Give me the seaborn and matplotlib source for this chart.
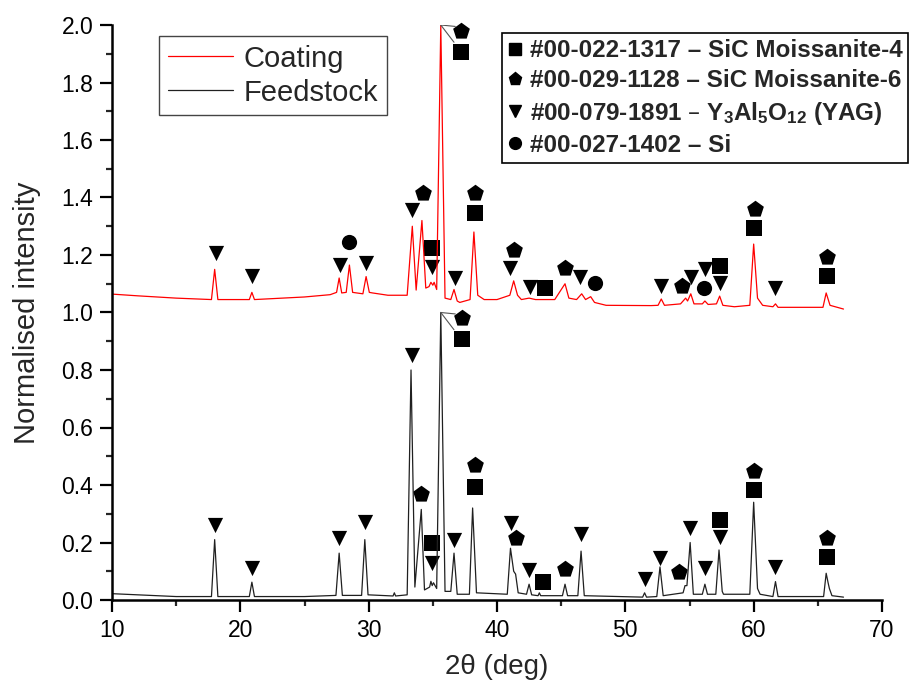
import numpy as np
import pandas as pd
import matplotlib
matplotlib.use("Agg")
import matplotlib.pyplot as plt
from matplotlib.lines import Line2D
from matplotlib.ticker import MultipleLocator
import seaborn as sns

# ---- traced pattern vertices (2theta, normalised intensity) ----
feed_tt = [10.0, 12.0, 15.0, 17.75, 18.0, 18.25, 20.7, 20.9, 21.1, 25.0,
           27.45, 27.7, 27.95, 29.45, 29.7, 29.95, 31.9, 32.0, 32.1, 33.0,
           33.3, 33.6, 34.1, 34.35, 34.75, 34.85, 34.95, 35.05, 35.3, 35.62,
           35.95, 36.4, 36.65, 36.9, 37.85, 38.1, 38.4, 40.8, 41.05, 41.3,
           41.45, 41.65, 42.3, 42.5, 42.7, 43.2, 43.3, 43.4, 45.1, 45.3,
           45.5, 46.3, 46.55, 46.8, 51.35, 51.5, 51.65, 52.45, 52.7, 52.95,
           54.5, 54.65, 54.8, 55.05, 55.3, 56.0, 56.2, 56.4, 57.05, 57.3,
           57.55, 57.65, 59.7, 60.0, 60.3, 60.5, 61.5, 61.7, 61.9, 65.45,
           65.65, 65.8, 65.9, 66.1, 67.0]
feed_int = [0.022, 0.018, 0.012, 0.012, 0.21, 0.012, 0.012, 0.062, 0.012, 0.012,
            0.016, 0.163, 0.016, 0.016, 0.21, 0.018, 0.014, 0.025, 0.014, 0.018,
            0.80, 0.045, 0.315, 0.035, 0.045, 0.065, 0.05, 0.06, 0.04, 1.0,
            0.03, 0.03, 0.163, 0.02, 0.02, 0.32, 0.025, 0.02, 0.18, 0.10,
            0.09, 0.025, 0.02, 0.055, 0.018, 0.015, 0.025, 0.015, 0.015, 0.055,
            0.015, 0.015, 0.17, 0.015, 0.01, 0.025, 0.01, 0.012, 0.115, 0.015,
            0.025, 0.05, 0.05, 0.20, 0.02, 0.02, 0.055, 0.02, 0.02, 0.174,
            0.03, 0.02, 0.02, 0.34, 0.04, 0.02, 0.012, 0.064, 0.012, 0.012,
            0.093, 0.06, 0.04, 0.015, 0.01]

coat_tt = [10.0, 12.0, 15.0, 17.75, 18.0, 18.25, 20.7, 20.9, 21.1, 25.0,
           27.0, 27.5, 27.7, 27.9, 28.25, 28.5, 28.75, 29.55, 29.8, 30.05,
           30.3, 31.5, 33.0, 33.4, 33.7, 34.15, 34.45, 34.7, 34.85, 35.0,
           35.1, 35.3, 35.62, 35.95, 36.4, 36.65, 36.9, 37.1, 37.9, 38.2,
           38.5, 39.0, 40.0, 41.0, 41.3, 41.6, 41.9, 42.5, 43.0, 43.5,
           44.5, 45.3, 45.6, 46.2, 46.6, 46.9, 47.3, 47.6, 48.5, 52.0,
           52.55, 52.8, 53.05, 54.3, 54.7, 54.85, 55.1, 55.35, 56.0, 56.2,
           56.45, 57.1, 57.35, 57.6, 58.5, 59.7, 60.0, 60.3, 60.7, 61.5,
           61.7, 61.9, 65.4, 65.65, 65.95, 67.0]
coat_int = [1.064, 1.058, 1.05, 1.045, 1.15, 1.045, 1.045, 1.07, 1.045, 1.054,
            1.062, 1.07, 1.12, 1.068, 1.07, 1.165, 1.07, 1.065, 1.125, 1.07,
            1.068, 1.06, 1.06, 1.30, 1.078, 1.32, 1.085, 1.09, 1.105, 1.095,
            1.105, 1.08, 2.0, 1.05, 1.045, 1.08, 1.04, 1.035, 1.045, 1.28,
            1.06, 1.045, 1.045, 1.06, 1.11, 1.06, 1.045, 1.05, 1.045, 1.045,
            1.045, 1.10, 1.05, 1.045, 1.065, 1.045, 1.055, 1.035, 1.025, 1.024,
            1.025, 1.047, 1.025, 1.03, 1.05, 1.04, 1.065, 1.03, 1.03, 1.04,
            1.028, 1.03, 1.057, 1.025, 1.02, 1.025, 1.238, 1.05, 1.025, 1.02,
            1.03, 1.018, 1.018, 1.068, 1.025, 1.012]

# ---- phase markers (2theta, height) ----
sq_tt = [34.9, 37.2, 38.25, 43.75, 57.4, 60.05, 65.75,
         34.9, 37.25, 38.25, 43.6, 57.4, 60.05, 65.7]
sq_y = [1.223, 1.906, 1.345, 1.085, 1.162, 1.294, 1.127,
        0.198, 0.908, 0.394, 0.064, 0.278, 0.383, 0.15]
pent_tt = [34.2, 37.2, 38.3, 41.3, 45.3, 54.4, 60.1, 65.75,
           34.1, 37.25, 38.25, 41.5, 45.3, 54.2, 60.05, 65.7]
pent_y = [1.415, 1.98, 1.416, 1.217, 1.155, 1.092, 1.36, 1.194,
          0.369, 0.98, 0.47, 0.215, 0.107, 0.099, 0.449, 0.217]
tri_tt = [18.1, 20.9, 27.8, 29.8, 33.4, 34.9, 36.7, 41.0, 42.6, 46.5,
          52.8, 55.1, 56.2, 57.4, 61.7,
          18.0, 20.9, 27.7, 29.7, 33.35, 34.9, 36.65, 41.1, 42.5, 46.55,
          51.5, 52.7, 55.05, 56.2, 57.4, 61.7]
tri_y = [1.207, 1.127, 1.165, 1.173, 1.355, 1.158, 1.12, 1.155, 1.09, 1.123,
         1.092, 1.125, 1.15, 1.104, 1.086,
         0.26, 0.11, 0.215, 0.27, 0.852, 0.13, 0.21, 0.269, 0.104, 0.23,
         0.072, 0.145, 0.252, 0.11, 0.22, 0.116]
circ_tt = [28.5, 47.6, 56.1]
circ_y = [1.245, 1.104, 1.086]

# leader lines from the clipped main peaks to their labels
lead_tt = [35.62, 36.75, 35.62, 36.65]
lead_coat = [2.0, 1.995, 2.0, 1.94]
lead_feed = [1.0, 0.995, 1.0, 0.94]

phase_labels = ["#00-022-1317 \u2013 SiC Moissanite-4",
                "#00-029-1128 \u2013 SiC Moissanite-6",
                "#00-079-1891 \u2013 Y$_3$Al$_5$O$_{12}$ (YAG)",
                "#00-027-1402 \u2013 Si"]

sns.set_style("ticks")
plt.rcParams["font.family"] = ["Liberation Sans", "DejaVu Sans"]
plt.rcParams["mathtext.default"] = "regular"

fig = plt.figure(figsize=(9.11, 6.81), dpi=100)
ax = fig.add_axes([112 / 911, 81 / 681, 770 / 911, 575 / 681])

sns.lineplot(x=coat_tt, y=coat_int, sort=False, estimator=None, color="#ff0000",
             lw=0.9, ax=ax, label="Coating")
sns.lineplot(x=feed_tt, y=feed_int, sort=False, estimator=None, color="#202020",
             lw=0.9, ax=ax, label="Feedstock")

for i in range(0, 4, 2):
    ax.plot(lead_tt[i:i + 2], lead_coat[i:i + 2], color="#555555", lw=0.8)
    ax.plot(lead_tt[i:i + 2], lead_feed[i:i + 2], color="#555555", lw=0.8)

sns.scatterplot(x=sq_tt, y=sq_y, marker="s", s=120, color="black", linewidth=0, ax=ax, clip_on=False)
sns.scatterplot(x=pent_tt, y=pent_y, marker="p", s=160, color="black", linewidth=0, ax=ax, clip_on=False)
sns.scatterplot(x=tri_tt, y=tri_y, marker="v", s=120, color="black", linewidth=0, ax=ax, clip_on=False)
sns.scatterplot(x=circ_tt, y=circ_y, marker="o", s=120, color="black", linewidth=0, ax=ax, clip_on=False)

ax.set_xlim(10, 70)
ax.set_ylim(0, 2.0)
ax.xaxis.set_major_locator(MultipleLocator(10))
ax.xaxis.set_minor_locator(MultipleLocator(5))
ax.yaxis.set_major_locator(MultipleLocator(0.2))
ax.yaxis.set_minor_locator(MultipleLocator(0.1))
ax.yaxis.set_major_formatter(matplotlib.ticker.FormatStrFormatter("%.1f"))
ax.tick_params(which="major", direction="out", length=8.5, width=1.6, labelsize=16.5,
               colors="black", pad=5)
ax.tick_params(which="minor", direction="out", length=4.5, width=1.6)
for side in ["top", "right"]:
    ax.spines[side].set_visible(False)
for side in ["left", "bottom"]:
    ax.spines[side].set_linewidth(1.8)
    ax.spines[side].set_color("black")

ax.set_xlabel("2\u03b8 (deg)", fontsize=20, labelpad=9)
ax.set_ylabel("Normalised intensity", fontsize=21, labelpad=15)

leg1 = ax.legend(loc="upper left", bbox_to_anchor=(0.061, 0.981), borderaxespad=0,
                 fontsize=21, frameon=True, fancybox=False, framealpha=1,
                 edgecolor="#444444", handlelength=2.25, handletextpad=0.35,
                 labelspacing=0.2, borderpad=0.3)
leg1.get_frame().set_linewidth(1.0)
ax.add_artist(leg1)

handles = [Line2D([], [], ls="none", marker=m, color="black", markersize=ms)
           for m, ms in zip(["s", "p", "v", "o"], [9, 9.5, 8.5, 8.5])]
leg2 = ax.legend(handles, phase_labels, loc="upper left", bbox_to_anchor=(0.506, 0.986),
                 borderaxespad=0, prop={"weight": "bold", "size": 17.5}, frameon=True,
                 fancybox=False, framealpha=1, edgecolor="black", handlelength=0.6,
                 handletextpad=0.3, labelspacing=0.3, borderpad=0.25)
leg2.get_frame().set_linewidth(1.2)

fig.savefig("out.png", dpi=100, facecolor="white")
